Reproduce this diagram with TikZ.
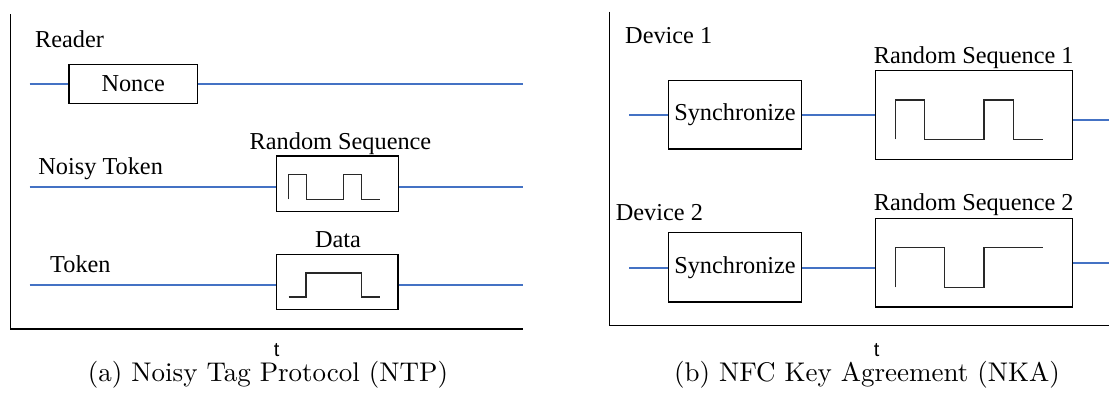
\documentclass[tikz,border=0pt]{standalone}
\usepackage{fontspec}
\newfontfamily\tnr{Liberation Serif}
\newfontfamily\arl{Liberation Sans}
\definecolor{sigblue}{RGB}{68,114,196}
\definecolor{wavegray}{RGB}{40,40,40}
\tikzset{
  lbl/.style={font=\tnr\fontsize{24.3}{29}\selectfont, inner sep=0pt},
  boxed/.style={draw, line width=1.2pt, inner sep=0pt, font=\tnr\fontsize{24.3}{29}\selectfont},
  sig/.style={draw=sigblue, line width=1.8pt},
  wave/.style={draw=wavegray, line width=1.2pt},
  axis/.style={draw=black, line width=1.4pt},
  tlbl/.style={font=\arl\fontsize{20}{24}\selectfont, inner sep=0pt, anchor=base},
  captext/.style={font=\fontsize{10}{12}\selectfont, inner sep=0pt, anchor=base, scale=2.7}
}
\begin{document}
\begin{tikzpicture}[x=1pt,y=-1pt]
\useasboundingbox (0,0) rectangle (1109,399);
% ---------- left panel ----------
\coordinate (aTop) at (10.7,14);
\coordinate (aCorner) at (10.7,329);
\coordinate (aEnd) at (523,329);
\draw[axis] (aTop) -- (aCorner) -- (aEnd);

\node[lbl, anchor=base west] (reader) at (35,47.3) {Reader};
\node[lbl, anchor=base west] (noisy) at (38.2,174) {Noisy Token};
\node[lbl, anchor=base west] (token) at (50,272.7) {Token};

\node[boxed, minimum width=128.5, minimum height=39] (nonce) at (133.25,83.8) {Nonce};
\node[boxed, minimum width=121.4, minimum height=55.7] (rs) at (337.5,183.85) {};
\node[boxed, minimum width=121.2, minimum height=54.7] (data) at (337.4,281.85) {};
\node[lbl, anchor=base] (rslbl) at (340.5,149) {Random Sequence};
\node[lbl, anchor=base] (datalbl) at (338,247.7) {Data};

\coordinate (n0) at (29.6,83.7);
\coordinate (n1) at (523,83.7);
\coordinate (s0) at (29.6,186.7);
\coordinate (s1) at (523,186.7);
\coordinate (k0) at (29.6,285);
\coordinate (k1) at (523,285);
\draw[sig] (n0) -- (n0 -| nonce.west);
\draw[sig] (nonce.east |- n1) -- (n1);
\draw[sig] (s0) -- (s0 -| rs.west);
\draw[sig] (rs.east |- s1) -- (s1);
\draw[sig] (k0) -- (k0 -| data.west);
\draw[sig] (data.east |- k1) -- (k1);

\draw[wave] (288.6,199.3) -- (288.6,174.3) -- (306.4,174.3) -- (306.4,199.3) -- (343.6,199.3) -- (343.6,174.3) -- (361.8,174.3) -- (361.8,199.3) -- (379.6,199.3);
\draw[wave] (288.6,297) -- (306,297) -- (306,273) -- (361.8,273) -- (361.8,297) -- (380,297);

\node[tlbl] (ta) at (276.7,356) {t};
\node[captext] (capa) at (268,381.7) {(a) Noisy Tag Protocol (NTP)};

% ---------- right panel ----------
\coordinate (bTop) at (609.3,11.7);
\coordinate (bCorner) at (609.3,325.7);
\coordinate (bEnd) at (1109,325.7);
\draw[axis] (bTop) -- (bCorner) -- (bEnd);

\node[lbl, anchor=base west] (dev1) at (625,43.3) {Device 1};
\node[lbl, anchor=base west] (dev2) at (615.7,220.7) {Device 2};

\node[boxed, minimum width=133.4, minimum height=68.7] (sync1) at (735,114.65) {Synchronize};
\node[boxed, minimum width=197.2, minimum height=88.7] (rs1) at (973.9,114.85) {};
\node[boxed, minimum width=133.4, minimum height=69.3] (sync2) at (735,267.35) {Synchronize};
\node[boxed, minimum width=197.2, minimum height=88.7] (rs2) at (973.9,262.65) {};
\node[lbl, anchor=base] (rs1lbl) at (973.7,63.3) {Random Sequence 1};
\node[lbl, anchor=base] (rs2lbl) at (973.7,210.7) {Random Sequence 2};

\coordinate (d1s) at (629.3,115);
\coordinate (d1e) at (1109,120);
\coordinate (d2s) at (629.3,267.7);
\coordinate (d2e) at (1109,262.7);
\draw[sig] (d1s) -- (d1s -| sync1.west);
\draw[sig] (sync1.east |- d1s) -- (d1s -| rs1.west);
\draw[sig] (rs1.east |- d1e) -- (d1e);
\draw[sig] (d2s) -- (d2s -| sync2.west);
\draw[sig] (sync2.east |- d2s) -- (d2s -| rs2.west);
\draw[sig] (rs2.east |- d2e) -- (d2e);

\draw[wave] (895.3,139.3) -- (895.3,100) -- (924.3,100) -- (924.3,139.3) -- (984,139.3) -- (984,100) -- (1013.3,100) -- (1013.3,139.3) -- (1043.3,139.3);
\draw[wave] (895.3,287.3) -- (895.3,247.7) -- (944.3,247.7) -- (944.3,287.3) -- (984,287.3) -- (984,247.7) -- (1043.3,247.7);

\node[tlbl] (tb) at (876.7,356) {t};
\node[captext] (capb) at (867,381.7) {(b) NFC Key Agreement (NKA)};
\end{tikzpicture}
\end{document}
